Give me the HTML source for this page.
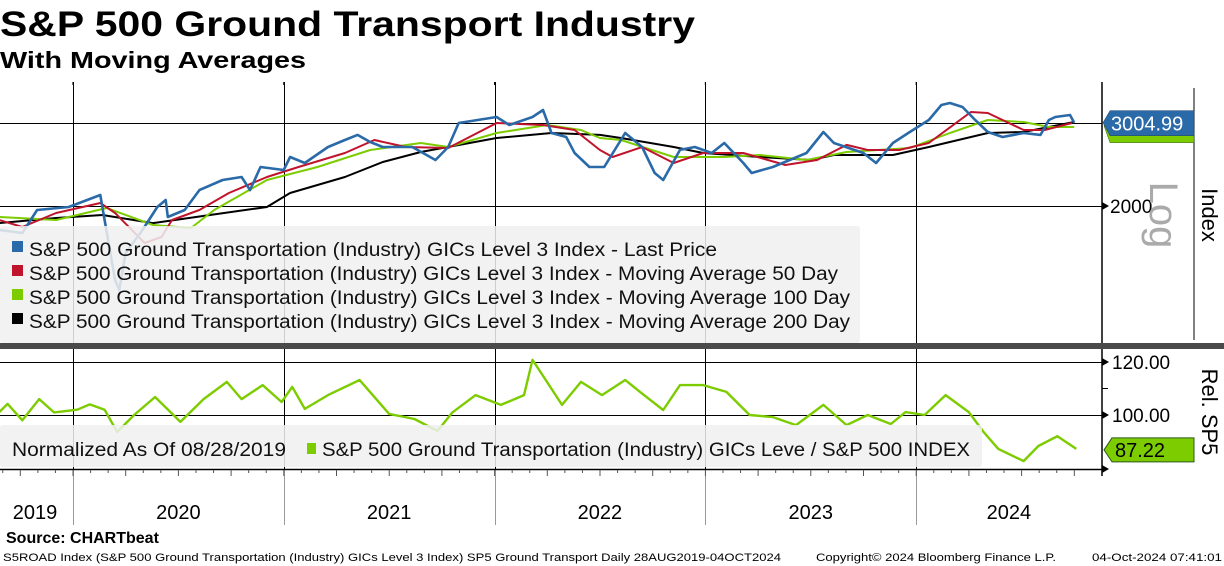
<!DOCTYPE html>
<html><head><meta charset="utf-8"><style>
html,body{margin:0;padding:0;background:#fff;width:1224px;height:566px;overflow:hidden}
svg{display:block;font-family:"Liberation Sans",sans-serif}
</style></head><body>
<svg id="chart" width="1224" height="566" viewBox="0 0 1224 566" xmlns="http://www.w3.org/2000/svg">
<text x="0" y="36" font-size="35" font-weight="bold" textLength="695" lengthAdjust="spacingAndGlyphs">S&amp;P 500 Ground Transport Industry</text>
<text x="0" y="68" font-size="23" font-weight="bold" textLength="306" lengthAdjust="spacingAndGlyphs">With Moving Averages</text>
<g id="grid"></g>
<g id="upper"></g>
<g id="lower"></g>
<g id="axes"></g>
<text x="6" y="543" font-size="16" font-weight="bold">Source: CHARTbeat</text>
<text x="3" y="561" font-size="11" textLength="778" lengthAdjust="spacingAndGlyphs">S5ROAD Index (S&amp;P 500 Ground Transportation (Industry) GICs Level 3 Index) SP5 Ground Transport  Daily 28AUG2019-04OCT2024</text>
<text x="816" y="561" font-size="11" textLength="240" lengthAdjust="spacingAndGlyphs">Copyright© 2024 Bloomberg Finance L.P.</text>
<text x="1092" y="561" font-size="11" textLength="130" lengthAdjust="spacingAndGlyphs">04-Oct-2024 07:41:01</text>
</svg>
<script>
const priceDates=[2019.65,2019.76,2019.83,2019.98,2020.13,2020.15,2020.20,2020.22,2020.25,2020.33,2020.40,2020.44,2020.45,2020.53,2020.60,2020.71,2020.80,2020.84,2020.89,2021.00,2021.03,2021.10,2021.21,2021.29,2021.35,2021.41,2021.47,2021.61,2021.72,2021.78,2021.83,2021.92,2022.01,2022.07,2022.18,2022.23,2022.27,2022.34,2022.38,2022.45,2022.52,2022.62,2022.70,2022.76,2022.80,2022.88,2022.95,2023.03,2023.09,2023.18,2023.22,2023.32,2023.40,2023.48,2023.56,2023.61,2023.75,2023.81,2023.89,2023.97,2024.06,2024.12,2024.16,2024.22,2024.28,2024.34,2024.41,2024.51,2024.59,2024.63,2024.66,2024.73,2024.75];
const priceValues=[1779,1753,1961,1990,2110,1868,1393,1327,1589,1779,1990,2059,1895,1961,2162,2271,2304,2162,2420,2385,2541,2468,2668,2761,2830,2734,2668,2668,2504,2668,3000,3044,3089,2971,3089,3197,2857,2802,2591,2420,2420,2857,2668,2350,2271,2630,2668,2591,2721,2468,2350,2420,2504,2591,2871,2721,2591,2468,2721,2871,3044,3276,3308,3244,3044,2871,2802,2857,2830,3044,3089,3119,3005];
const ma50Dates=[2019.65,2019.76,2019.92,2020.13,2020.20,2020.34,2020.42,2020.47,2020.60,2020.74,2020.92,2021.07,2021.29,2021.43,2021.58,2021.78,2022.01,2022.23,2022.38,2022.50,2022.56,2022.70,2022.85,2022.99,2023.18,2023.38,2023.53,2023.67,2023.77,2023.92,2024.06,2024.26,2024.34,2024.51,2024.61,2024.74];
const ma50Values=[1868,1805,1933,2030,1933,1669,1719,1868,1961,2131,2304,2420,2591,2761,2668,2655,3000,2971,2899,2629,2541,2668,2468,2591,2591,2443,2504,2695,2629,2629,2721,3166,3150,2899,2899,3000];
const ma100Dates=[2019.65,2019.92,2020.16,2020.38,2020.56,2020.67,2020.92,2021.16,2021.41,2021.65,2021.78,2022.01,2022.25,2022.41,2022.50,2022.60,2022.85,2023.09,2023.26,2023.48,2023.67,2023.97,2024.16,2024.34,2024.51,2024.63,2024.75];
const ma100Values=[1895,1868,1981,1823,1796,1961,2271,2420,2629,2721,2668,2857,2971,2899,2788,2761,2541,2541,2566,2504,2604,2655,2857,3044,3015,2942,2942];
const ma200Dates=[2019.65,2019.92,2020.14,2020.38,2020.65,2020.92,2021.03,2021.29,2021.47,2021.65,2022.01,2022.27,2022.50,2022.60,2022.85,2022.99,2023.26,2023.50,2023.61,2023.89,2024.06,2024.34,2024.51,2024.75];
const ma200Values=[1840,1886,1914,1840,1914,1990,2131,2304,2480,2604,2788,2857,2830,2788,2668,2591,2541,2504,2566,2566,2668,2857,2871,3015];
const relDates=[2019.65,2019.69,2019.76,2019.84,2019.91,2020.02,2020.08,2020.15,2020.21,2020.29,2020.39,2020.51,2020.62,2020.73,2020.80,2020.90,2020.99,2021.04,2021.10,2021.21,2021.36,2021.50,2021.62,2021.73,2021.80,2021.91,2022.03,2022.14,2022.18,2022.24,2022.32,2022.41,2022.51,2022.62,2022.69,2022.80,2022.88,2022.99,2023.10,2023.21,2023.32,2023.43,2023.56,2023.67,2023.77,2023.88,2023.95,2024.04,2024.14,2024.25,2024.32,2024.39,2024.51,2024.58,2024.67,2024.76];
const relValues=[101.1,104.2,98,106,101,102,104,102,93.6,100,106.8,97.4,106,112.5,106,111.3,104.9,110.6,102.3,107.5,113.2,100.4,98.5,94,101,107.5,103.8,107.5,120.8,113.6,103.8,112.5,107.5,113.2,108.7,101.9,111.3,111.3,108.7,100,99.2,96.2,103.8,96.2,100,96.6,101.1,100,107.5,101.1,93.6,87.2,82.6,88.3,92,87.2];
const yearGrid=[2020,2021,2022,2023,2024];
const yearLabels=["2019","2020","2021","2022","2023","2024"];
const yearLabelPos=[2019.82,2020.5,2021.5,2022.5,2023.5,2024.44];
const upperTicks=[2000,3000];
const lowerTicks=[120,100];
const legendLabels=["S&P 500 Ground Transportation (Industry) GICs Level 3 Index - Last Price","S&P 500 Ground Transportation (Industry) GICs Level 3 Index - Moving Average 50 Day","S&P 500 Ground Transportation (Industry) GICs Level 3 Index - Moving Average 100 Day","S&P 500 Ground Transportation (Industry) GICs Level 3 Index - Moving Average 200 Day"];
const legendWidths=[688,809,821,821];

const NS="http://www.w3.org/2000/svg";
const X0=2019.654, PXY=210.8, PLOT_R=1102;
function xs(t){return (t-X0)*PXY;}
function yU(v){return 206-204.7*Math.log(v/2000);}
function yL(v){return 415-(v-100)*2.65;}
function mk(tag,attrs,parent){const e=document.createElementNS(NS,tag);for(const k in attrs)e.setAttribute(k,attrs[k]);parent.appendChild(e);return e;}
const grid=document.getElementById('grid'),upper=document.getElementById('upper'),lower=document.getElementById('lower'),axes=document.getElementById('axes');

const defs=mk('defs',{},document.getElementById('chart'));
const cu=mk('clipPath',{id:'cu'},defs);mk('rect',{x:0,y:82,width:PLOT_R,height:261},cu);
const cl=mk('clipPath',{id:'cl'},defs);mk('rect',{x:0,y:349,width:PLOT_R,height:121},cl);

yearGrid.forEach(y=>{
  const x=Math.round(xs(y))+0.5;
  const l=mk('line',{x1:x,x2:x,y1:82,y2:470,stroke:'#000','stroke-width':1},grid);
  
  
  const l2=mk('line',{x1:x,x2:x,y1:470,y2:525,stroke:'#999','stroke-width':1},grid);
  
  
});
upperTicks.forEach(v=>{
  const y=Math.round(yU(v))+0.5;
  const l=mk('line',{x1:0,x2:PLOT_R,y1:y,y2:y,stroke:'#000','stroke-width':1},grid);
  
  
});
lowerTicks.forEach(v=>{
  const y=Math.round(yL(v))+0.5;
  const l=mk('line',{x1:0,x2:PLOT_R,y1:y,y2:y,stroke:'#000','stroke-width':1},grid);
  
  
});
mk('line',{x1:0,x2:PLOT_R,y1:469.5,y2:469.5,stroke:'#000','stroke-width':1.5},grid);

function path(dates,vals,yf){return dates.map((d,i)=>(i?'L':'M')+xs(d).toFixed(1)+','+yf(vals[i]).toFixed(1)).join('');}
const series=[[ma200Dates,ma200Values,'#000','ma-200-line'],[ma100Dates,ma100Values,'#7ccc00','ma-100-line'],[ma50Dates,ma50Values,'#c0142c','ma-50-line'],[priceDates,priceValues,'#2a6aa8','last-price-line']];
series.forEach(s=>{
  const p=mk('path',{d:path(s[0],s[1],yU),fill:'none',stroke:s[2],'stroke-width':s[3]==='last-price-line'?2.6:2,'stroke-linejoin':'round','clip-path':'url(#cu)'},upper);
  
  
});
const lg=mk('g',{},upper);


mk('rect',{x:0,y:226,width:860,height:117,rx:3,fill:'rgba(240,240,240,0.86)'},lg);
const lcol=['#2a6aa8','#c0142c','#7ccc00','#000'];
legendLabels.forEach((t,i)=>{
  const yy=250+i*24;
  const sq=mk('rect',{x:12,y:yy-9,width:11,height:11,fill:lcol[i]},lg);
  
  
  const tx=mk('text',{x:29,y:yy+6,'font-size':19,fill:'#111',textLength:legendWidths[i],lengthAdjust:'spacingAndGlyphs'},lg);
  tx.textContent=t;
  
  
});
const rp=mk('path',{d:path(relDates,relValues,yL),fill:'none',stroke:'#7ccc00','stroke-width':2.4,'stroke-linejoin':'round','clip-path':'url(#cl)'},lower);


const lg2=mk('g',{},lower);


mk('rect',{x:0,y:425,width:982,height:42,rx:3,fill:'rgba(240,240,240,0.86)'},lg2);
const t1=mk('text',{x:12,y:456,'font-size':19,fill:'#111',textLength:274,lengthAdjust:'spacingAndGlyphs'},lg2);t1.textContent='Normalized As Of 08/28/2019';
mk('rect',{x:307,y:443,width:9,height:11,fill:'#7ccc00'},lg2);
const t2=mk('text',{x:322,y:456,'font-size':19,fill:'#111',textLength:648,lengthAdjust:'spacingAndGlyphs'},lg2);t2.textContent='S&P 500 Ground Transportation (Industry) GICs Leve / S&P 500 INDEX';

const dv=mk('rect',{x:0,y:343,width:1224,height:6,fill:'#4a4a4a'},axes);


mk('line',{x1:PLOT_R,x2:PLOT_R,y1:82,y2:343,stroke:'#000','stroke-width':1.5},axes);
mk('line',{x1:PLOT_R,x2:PLOT_R,y1:349,y2:476,stroke:'#000','stroke-width':1.5},axes);
mk('line',{x1:1194,x2:1194,y1:88,y2:340,stroke:'#000','stroke-width':1},axes);
yearGrid.forEach(y=>{mk('line',{x1:xs(y),x2:xs(y),y1:82,y2:85,stroke:'#000'},axes);});
const u2=mk('text',{x:1110,y:213,'font-size':19,fill:'#000'},axes);u2.textContent='2000';


mk('path',{d:`M1102,${yU(2000)-4}L1109,${yU(2000)}L1102,${yU(2000)+4}Z`,fill:'#000'},axes);
const lgT=mk('text',{transform:'translate(1150,215) rotate(90)','font-size':40,fill:'#aaa','text-anchor':'middle'},axes);lgT.textContent='Log';


const ix=mk('text',{transform:'translate(1202,215) rotate(90)','font-size':22,fill:'#000','text-anchor':'middle'},axes);ix.textContent='Index';


const lastY=yU(priceValues[priceValues.length-1]);
mk('path',{d:`M1110,${lastY+8}L1194,${lastY+8}L1194,${lastY+20}L1110,${lastY+20}L1104,${lastY+3}Z`,fill:'#7ccc00',stroke:'#2b5a1a','stroke-width':0.5},axes);
const lb=mk('path',{d:`M1110,${lastY-12}L1194,${lastY-12}L1194,${lastY+13}L1110,${lastY+13}L1103,${lastY}Z`,fill:'#2a6aa8',stroke:'#173d66','stroke-width':0.5},axes);


const lbt=mk('text',{x:1111,y:lastY+8,'font-size':20,fill:'#fff'},axes);lbt.textContent='3004.99';
lowerTicks.forEach(v=>{
  const t=mk('text',{x:1112,y:yL(v)+7,'font-size':19,fill:'#000'},axes);t.textContent=v.toFixed(2);
  
  
  mk('path',{d:`M1102,${yL(v)-4}L1109,${yL(v)}L1102,${yL(v)+4}Z`,fill:'#000'},axes);
});
mk('line',{x1:1102,x2:1108,y1:yL(110),y2:yL(110),stroke:'#000'},axes);
mk('path',{d:`M1102,465L1109,469L1102,473Z`,fill:'#000'},axes);
const rs=mk('text',{transform:'translate(1202,412) rotate(90)','font-size':22,fill:'#000','text-anchor':'middle'},axes);rs.textContent='Rel. SP5';


const relY=yL(relValues[relValues.length-1]);
const rb=mk('path',{d:`M1112,${relY-11}L1194,${relY-11}L1194,${relY+13}L1112,${relY+13}L1104,${relY+1}Z`,fill:'#7ccc00',stroke:'#2b5a1a','stroke-width':1},axes);


const rbt=mk('text',{x:1115,y:relY+8,'font-size':20,fill:'#000'},axes);rbt.textContent='87.22';
for(let m=0;m<62;m++){const t=2019.667+m/12;const x=xs(t);if(x>PLOT_R)break;mk('line',{x1:x,x2:x,y1:470,y2:(m%3===1?476:473),stroke:'#555'},axes);}
yearLabels.forEach((l,i)=>{
  const t=mk('text',{x:xs(yearLabelPos[i]),y:519,'font-size':20,'text-anchor':'middle',fill:'#000'},axes);t.textContent=l;
  
  
});
</script>
</body></html>
